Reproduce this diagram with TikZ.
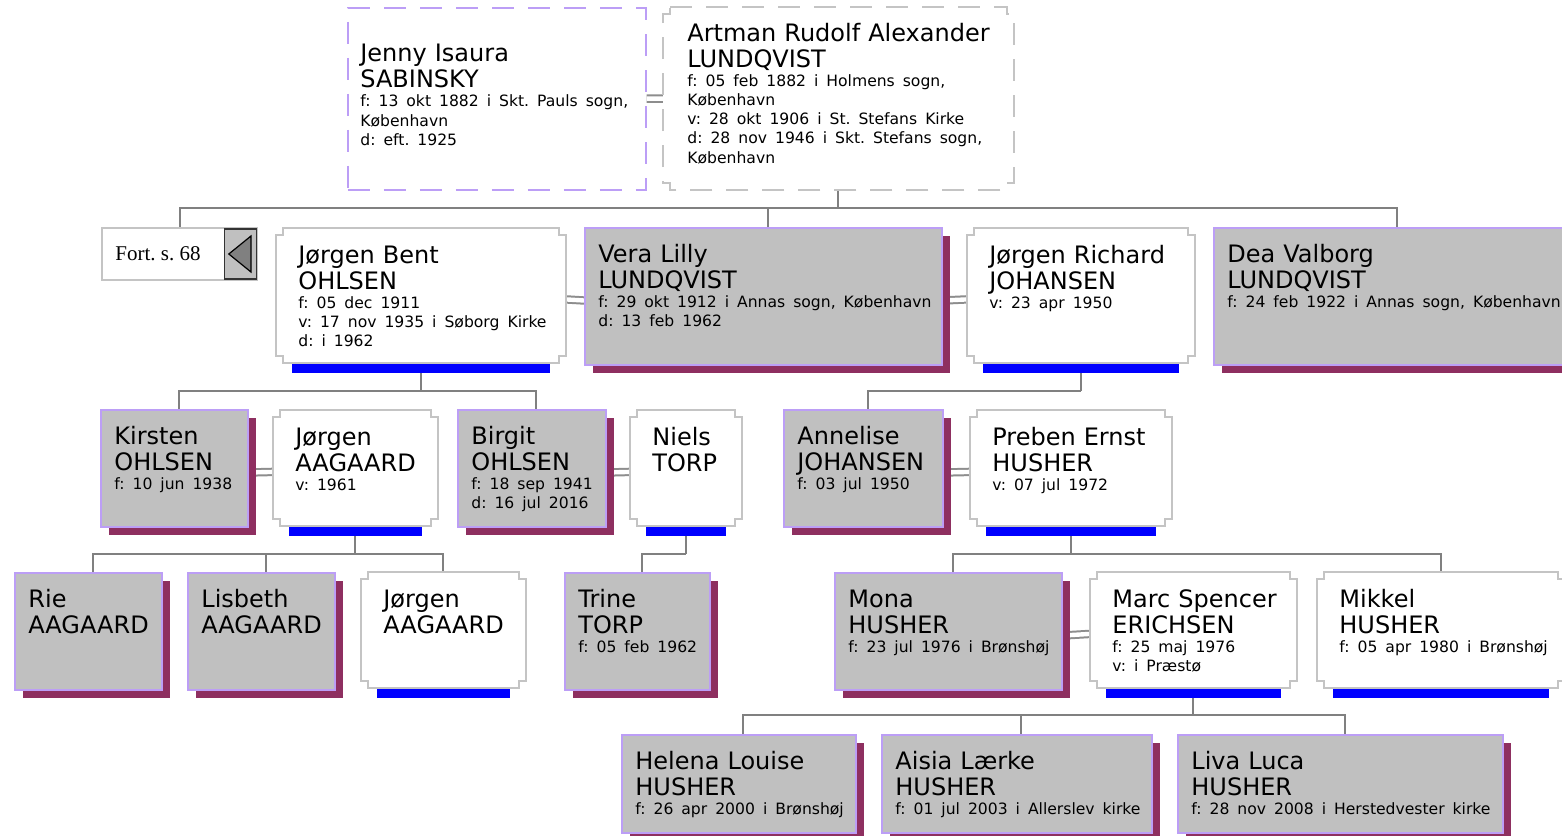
\documentclass[tikz,border=0pt]{standalone}
\usepackage{fontspec}
\setmainfont{DejaVu Sans}
\newfontfamily\fortfont{Liberation Serif}
\usetikzlibrary{shadows,backgrounds}
\definecolor{boxgray}{HTML}{C0C0C0}
\definecolor{lilac}{HTML}{BC9EF6}
\definecolor{shadowred}{HTML}{8E2F60}
\definecolor{framegray}{HTML}{C4C4C4}
\definecolor{linegray}{HTML}{808080}
\definecolor{barblue}{HTML}{0000FF}
\frenchspacing

\newcommand{\namefont}{\fontsize{12}{13}\selectfont}
\newcommand{\infofont}{\fontsize{7.8}{9.6}\selectfont}

% stepped frame round a white box
\newcommand{\notchframe}[2][]{%
  \draw[framegray, line width=1pt, #1]
    ([xshift=3.5pt]#2.north west) -- ([xshift=-3.5pt]#2.north east)
    -- ++(0pt,-3.5pt) -- ++(3.5pt,0pt)
    -- ([yshift=3.5pt]#2.south east) -- ++(-3.5pt,0pt) -- ++(0pt,-3.5pt)
    -- ([xshift=3.5pt]#2.south west) -- ++(0pt,3.5pt) -- ++(-3.5pt,0pt)
    -- ([yshift=-3.5pt]#2.north west) -- ++(3.5pt,0pt) -- cycle;}
% frame plus blue bar for a man
\newcommand{\manframe}[1]{%
  \notchframe{#1}
  \fill[barblue] ([xshift=8pt,yshift=-0.5pt]#1.south west)
    rectangle ([xshift=-8pt,yshift=-5pt]#1.south east);}

\begin{document}
\begin{tikzpicture}[
    x=0.5pt, y=-0.5pt,
    every node/.style={inner sep=0pt},
    female/.style 2 args={
      rectangle, anchor=north west, fill=boxgray, draw=lilac, line width=1pt,
      minimum width=#1*0.5pt, minimum height=#2*0.5pt,
      drop shadow={shadow xshift=4pt, shadow yshift=-4pt, fill=shadowred, opacity=1}
    },
    male/.style 2 args={
      rectangle, anchor=north west, fill=white,
      minimum width=#1*0.5pt, minimum height=#2*0.5pt
    },
    fortbox/.style={
      rectangle, anchor=north west, draw=framegray, line width=1pt, fill=white,
      minimum width=77.5pt, minimum height=26pt
    },
    fortarrow/.style={
      rectangle, anchor=east, fill=boxgray, draw=black!80, line width=0.6pt,
      minimum width=16pt, minimum height=25pt
    },
    ptext/.style={anchor=base west, text width=200pt, align=left, font=\namefont},
    ftext/.style={ptext, xshift=7pt, yshift=-17.5pt},
    mtext/.style={ptext, xshift=11pt, yshift=-17.5pt},
    descent/.style={draw=linegray, line width=1pt},
    couple/.style={draw=linegray!90, line width=1pt, double=white, double distance=2.2pt},
  ]
  \useasboundingbox (0,0) rectangle (1562,835);
  \clip (0,0) rectangle (1562,835);

  % --- Boxes ---
  \node[male={298}{182}, draw=lilac, line width=0.8pt, dash pattern=on 11pt off 7pt] (jenny) at (347,7) {};
  \node[male={350}{182}] (artman) at (663,7) {};

  \node[fortbox] (fort) at (101,227) {};
  \node[male={289}{134}] (jbent) at (276,228) {};
  \node[female={357}{137}] (vera) at (584,227) {};
  \node[male={227}{134}] (jrich) at (967,228) {};
  \node[female={357}{137}] (dea) at (1213,227) {};

  \node[female={147}{117}] (kirsten) at (100,409) {};
  \node[male={164}{115}] (jaag) at (273,410) {};
  \node[female={148}{117}] (birgit) at (457,409) {};
  \node[male={111}{115}] (niels) at (630,410) {};
  \node[female={159}{117}] (annelise) at (783,409) {};
  \node[male={201}{115}] (preben) at (970,410) {};

  \node[female={147}{117}] (rie) at (14,572) {};
  \node[female={147}{117}] (lisbeth) at (187,572) {};
  \node[male={164}{115}] (jaag2) at (361,572) {};
  \node[female={145}{117}] (trine) at (564,572) {};
  \node[female={227}{117}] (mona) at (834,572) {};
  \node[male={206}{115}] (marc) at (1090,572) {};
  \node[male={247}{115}] (mikkel) at (1317,572) {};

  \node[female={234}{98}] (helena) at (621,734) {};
  \node[female={270}{98}] (aisia) at (881,734) {};
  \node[female={325}{98}] (liva) at (1177,734) {};

  % --- Frames of the men ---
  \notchframe[line width=0.8pt, dash pattern=on 11pt off 7pt]{artman}
  \manframe{jbent}
  \manframe{jrich}
  \manframe{jaag}
  \manframe{niels}
  \manframe{preben}
  \manframe{jaag2}
  \manframe{marc}
  \manframe{mikkel}

  % --- Fort. s. 68 ---
  \node[fortarrow] (fort-arrow) at ([xshift=-0.5pt]fort.east) {};
  \filldraw[fill=black!50, draw=black, line width=0.6pt]
    ([xshift=2.5pt]fort-arrow.west) -- ([xshift=-3pt,yshift=9pt]fort-arrow.east)
    -- ([xshift=-3pt,yshift=-9pt]fort-arrow.east) -- cycle;
  \node[font=\fortfont\fontsize{10.5}{12}\selectfont, anchor=west] (fort-t)
    at ([xshift=7pt]fort.west) {Fort. s. 68};

  % --- Texts ---
  \node[ptext, xshift=6.5pt, yshift=-27.3pt] (jenny-t) at (jenny.north west)
    {Jenny Isaura\\SABINSKY\par\infofont f: 13 okt 1882 i Skt. Pauls sogn,\\København\\d: eft. 1925\par};
  \node[ptext, xshift=12pt, yshift=-17pt] (artman-t) at (artman.north west)
    {Artman Rudolf Alexander\\LUNDQVIST\par\infofont f: 05 feb 1882 i Holmens sogn,\\København\\v: 28 okt 1906 i St. Stefans Kirke\\d: 28 nov 1946 i Skt. Stefans sogn,\\København\par};

  \node[mtext] (jbent-t) at (jbent.north west)
    {Jørgen Bent\\OHLSEN\par\infofont f: 05 dec 1911\\v: 17 nov 1935 i Søborg Kirke\\d: i 1962\par};
  \node[ftext] (vera-t) at (vera.north west)
    {Vera Lilly\\LUNDQVIST\par\infofont f: 29 okt 1912 i Annas sogn, København\\d: 13 feb 1962\par};
  \node[mtext] (jrich-t) at (jrich.north west)
    {Jørgen Richard\\JOHANSEN\par\infofont v: 23 apr 1950\par};
  \node[ftext] (dea-t) at (dea.north west)
    {Dea Valborg\\LUNDQVIST\par\infofont f: 24 feb 1922 i Annas sogn, København\par};

  \node[ftext] (kirsten-t) at (kirsten.north west)
    {Kirsten\\OHLSEN\par\infofont f: 10 jun 1938\par};
  \node[mtext] (jaag-t) at (jaag.north west)
    {Jørgen\\AAGAARD\par\infofont v: 1961\par};
  \node[ftext] (birgit-t) at (birgit.north west)
    {Birgit\\OHLSEN\par\infofont f: 18 sep 1941\\d: 16 jul 2016\par};
  \node[mtext] (niels-t) at (niels.north west) {Niels\\TORP};
  \node[ftext] (annelise-t) at (annelise.north west)
    {Annelise\\JOHANSEN\par\infofont f: 03 jul 1950\par};
  \node[mtext] (preben-t) at (preben.north west)
    {Preben Ernst\\HUSHER\par\infofont v: 07 jul 1972\par};

  \node[ftext] (rie-t) at (rie.north west) {Rie\\AAGAARD};
  \node[ftext] (lisbeth-t) at (lisbeth.north west) {Lisbeth\\AAGAARD};
  \node[mtext] (jaag2-t) at (jaag2.north west) {Jørgen\\AAGAARD};
  \node[ftext] (trine-t) at (trine.north west)
    {Trine\\TORP\par\infofont f: 05 feb 1962\par};
  \node[ftext] (mona-t) at (mona.north west)
    {Mona\\HUSHER\par\infofont f: 23 jul 1976 i Brønshøj\par};
  \node[mtext] (marc-t) at (marc.north west)
    {Marc Spencer\\ERICHSEN\par\infofont f: 25 maj 1976\\v: i Præstø\par};
  \node[mtext] (mikkel-t) at (mikkel.north west)
    {Mikkel\\HUSHER\par\infofont f: 05 apr 1980 i Brønshøj\par};

  \node[ftext] (helena-t) at (helena.north west)
    {Helena Louise\\HUSHER\par\infofont f: 26 apr 2000 i Brønshøj\par};
  \node[ftext] (aisia-t) at (aisia.north west)
    {Aisia Lærke\\HUSHER\par\infofont f: 01 jul 2003 i Allerslev kirke\par};
  \node[ftext] (liva-t) at (liva.north west)
    {Liva Luca\\HUSHER\par\infofont f: 28 nov 2008 i Herstedvester kirke\par};

  % --- Connectors (behind the boxes) ---
  \begin{scope}[on background layer]
    % couples
    \draw[couple] (jenny) -- (artman);
    \draw[couple] ([yshift=-2pt]jbent.east) -- ([yshift=-2pt]vera.west);
    \draw[couple] ([yshift=-2pt]vera.east) -- ([yshift=-2pt]jrich.west);
    \draw[couple] ([yshift=-2pt]kirsten.east) -- ([yshift=-2pt]jaag.west);
    \draw[couple] ([yshift=-2pt]birgit.east) -- ([yshift=-2pt]niels.west);
    \draw[couple] ([yshift=-2pt]annelise.east) -- ([yshift=-2pt]preben.west);
    \draw[couple] ([yshift=-2pt]mona.east) -- ([yshift=-2pt]marc.west);

    % children
    \draw[descent] (artman.south) -- ++(0,18) coordinate (bus1);
    \draw[descent] (bus1) -| (fort.north);
    \draw[descent] (bus1) -| ([xshift=2pt]vera.north);
    \draw[descent] (bus1) -| ([xshift=2pt]dea.north);

    \draw[descent] (jbent.south) -- ++(0,28) coordinate (bus2);
    \draw[descent] (bus2) -| ([xshift=2pt]kirsten.north);
    \draw[descent] (bus2) -| ([xshift=2pt]birgit.north);

    \draw[descent] (jrich.south) -- ++(0,28) coordinate (bus3);
    \draw[descent] (bus3) -| ([xshift=2pt]annelise.north);

    \draw[descent] (jaag.south) -- ++(0,28) coordinate (bus4);
    \draw[descent] (bus4) -| ([xshift=2pt]rie.north);
    \draw[descent] (bus4) -| ([xshift=2pt]lisbeth.north);
    \draw[descent] (bus4) -| (jaag2.north);

    \draw[descent] (niels.south) -- ++(0,28) coordinate (bus5);
    \draw[descent] (bus5) -| ([xshift=2pt]trine.north);

    \draw[descent] (preben.south) -- ++(0,28) coordinate (bus6);
    \draw[descent] (bus6) -| ([xshift=2pt]mona.north);
    \draw[descent] (bus6) -| (mikkel.north);

    \draw[descent] (marc.south) -- ++(0,27) coordinate (bus7);
    \draw[descent] (bus7) -| ([xshift=2pt]helena.north);
    \draw[descent] (bus7) -| ([xshift=2pt]aisia.north);
    \draw[descent] (bus7) -| ([xshift=2pt]liva.north);
  \end{scope}
\end{tikzpicture}
\end{document}
